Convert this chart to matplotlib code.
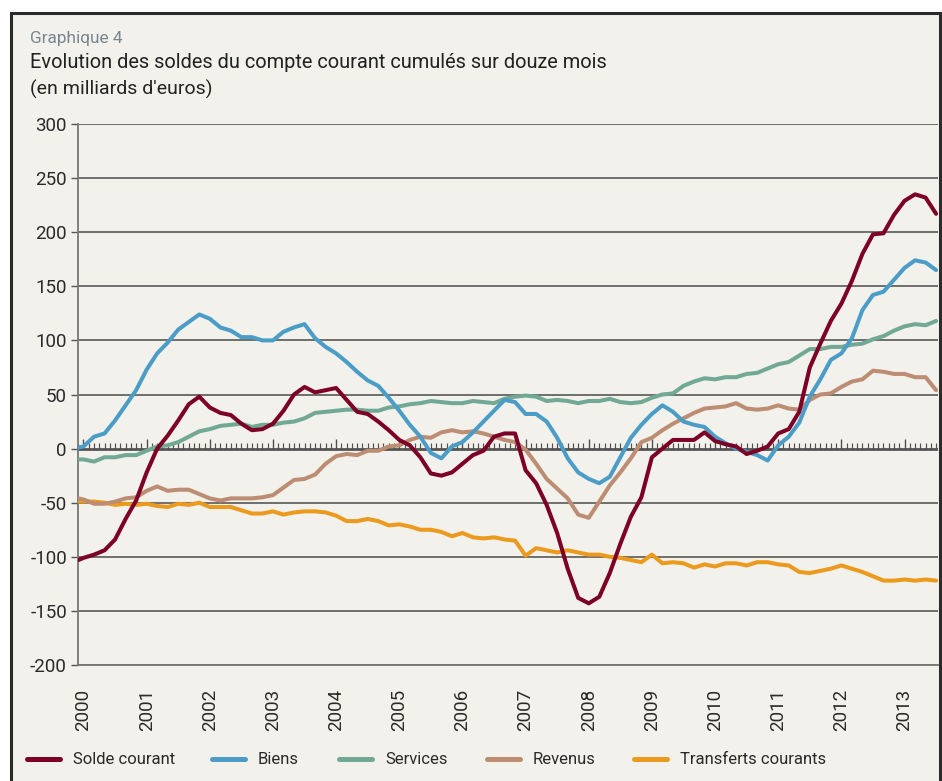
import numpy as np
import matplotlib
matplotlib.use("Agg")
import matplotlib.pyplot as plt
from matplotlib.patches import Rectangle
from matplotlib.lines import Line2D

plt.rcParams['font.family'] = ['Roboto', 'DejaVu Sans']
plt.rcParams['axes.unicode_minus'] = False

# ---- data (milliards d'euros, cumul 12 mois), sampled every two months ----
t = np.concatenate([[1999.92], 2000 + np.arange(82) / 6])

solde = [-103,
         -101, -98, -94, -84, -65, -48, -22, 0, 12, 26, 41, 48, 38, 33, 31, 23, 17,
         18, 23, 35, 50, 57, 52, 54, 56, 45, 34, 32, 25, 17, 8, 3, -8,
         -23, -25, -22, -14, -6, -2, 11, 14, 14, -20, -32, -52, -78, -111, -138, -143, -137,
         -115, -88, -63, -45, -8, 0, 8, 8, 8, 15, 7, 4, 2, -5, -2, 2, 14,
         18, 34, 75, 97, 118, 134, 155, 180, 198, 199, 216, 229, 235, 232, 217]
biens = [1,
         2, 11, 14, 26, 40, 54, 73, 88, 98, 110, 117, 124, 120, 112, 109, 103, 103,
         100, 100, 108, 112, 115, 102, 94, 88, 80, 71, 63, 58, 47, 35, 22, 11,
         -4, -9, 2, 6, 15, 25, 35, 45, 43, 32, 32, 25, 10, -9, -22, -28, -32,
         -26, -8, 10, 22, 32, 40, 34, 25, 22, 20, 11, 5, 0, -3, -6, -11, 3,
         11, 24, 48, 64, 82, 88, 102, 128, 142, 145, 156, 167, 174, 172, 165]
services = [-10,
            -10, -12, -8, -8, -6, -6, -2, 2, 3, 6, 11, 16, 18, 21, 22, 23, 20,
            22, 22, 24, 25, 28, 33, 34, 35, 36, 36, 35, 35, 38, 39, 41, 42,
            44, 43, 42, 42, 44, 43, 42, 46, 48, 49, 48, 44, 45, 44, 42, 44, 44,
            46, 43, 42, 43, 47, 50, 51, 58, 62, 65, 64, 66, 66, 69, 70, 74, 78,
            80, 86, 92, 92, 94, 94, 96, 97, 101, 104, 109, 113, 115, 114, 118]
revenus = [-46,
           -47, -51, -51, -49, -46, -45, -39, -35, -39, -38, -38, -42, -46, -48, -46, -46, -46,
           -45, -43, -36, -29, -28, -24, -14, -7, -5, -6, -2, -2, 2, 3, 8, 11,
           10, 15, 17, 15, 16, 14, 11, 8, 6, -1, -14, -28, -37, -46, -61, -64, -49,
           -34, -22, -9, 6, 10, 17, 23, 28, 33, 37, 38, 39, 42, 37, 36, 37, 40,
           37, 36, 45, 50, 51, 57, 62, 64, 72, 71, 69, 69, 66, 66, 54]
transferts = [-49,
              -49, -49, -50, -52, -51, -52, -51, -53, -54, -51, -52, -50, -54, -54, -54, -57, -60,
              -60, -58, -61, -59, -58, -58, -59, -62, -67, -67, -65, -67, -71, -70, -72, -75,
              -75, -77, -81, -78, -82, -83, -82, -84, -85, -99, -92, -94, -96, -94, -96, -98, -98,
              -100, -101, -103, -105, -98, -106, -105, -106, -110, -107, -109, -106, -106, -108, -105, -105, -107,
              -108, -114, -115, -113, -111, -108, -111, -114, -118, -122, -122, -121, -122, -121, -122]

series_names = ["Solde courant", "Biens", "Services", "Revenus", "Transferts courants"]
series_colors = ["#7d0026", "#4b9dc8", "#71a995", "#bd8d73", "#ec9a1d"]
series_values = [solde, biens, services, revenus, transferts]

years = list(range(2000, 2014))
y_ticks = [-200, -150, -100, -50, 0, 50, 100, 150, 200, 250, 300]

# ---- figure ----
W, H = 942, 781
fig = plt.figure(figsize=(W / 100, H / 100), dpi=100, facecolor="white")
bg = "#f2f1eb"
fig.patches.append(Rectangle((11 / W, -0.05), (940 - 11) / W, 1.05 - 13 / H,
                             transform=fig.transFigure, facecolor=bg,
                             edgecolor="#2b2b2b", linewidth=2.2, zorder=-10))

ax = fig.add_axes([78 / W, 1 - 665 / H, (938 - 78) / W, (665 - 124) / H])
ax.set_facecolor("none")
ax.set_zorder(1)

# gridlines
for v in y_ticks:
    if v == 0:
        continue
    ax.axhline(v, color="#4a4a4a", lw=1.1, zorder=1)

# zero line with monthly hatch
ax.axhline(0, color="#555555", lw=2.0, zorder=2)
months = 2000 + np.arange(-1, 163) / 12
for m in months:
    is_year = abs(m - round(m)) < 1e-6
    ax.plot([m, m], [0, 8.5 if is_year else 5.0], color="#505050",
            lw=1.0 if is_year else 0.85, zorder=2, solid_capstyle="butt")

order = [4, 3, 2, 1, 0]
for i in order:
    ax.plot(t, series_values[i], color=series_colors[i], lw=2.9, zorder=3 + (4 - i),
            solid_joinstyle="round", solid_capstyle="round")

ax.set_xlim(1999.913, 2013.53)
ax.set_ylim(-200, 300)

for s in ["top", "right"]:
    ax.spines[s].set_visible(False)
ax.spines["left"].set_color("#777777")
ax.spines["left"].set_linewidth(1.3)
ax.spines["bottom"].set_color("#777777")
ax.spines["bottom"].set_linewidth(1.3)

ax.set_yticks(y_ticks)
ax.set_yticklabels([str(v) for v in y_ticks])
ax.tick_params(axis="y", length=5, width=1.0, color="#555555", pad=3,
               labelsize=13.5, labelcolor="#2a2a2a")
ax.set_xticks(years)
ax.set_xticklabels([str(y) for y in years], rotation=90)
ax.tick_params(axis="x", length=0, pad=17, labelsize=13.5, labelcolor="#2a2a2a")

# titles
fig.text(30 / W, 1 - 38 / H, "Graphique 4", fontsize=12.4, color="#7b8590",
         va="center", ha="left")
fig.text(30 / W, 1 - 63 / H, "Evolution des soldes du compte courant cumulés sur douze mois",
         fontsize=14.4, color="#222222", va="center", ha="left")
fig.text(30 / W, 1 - 89 / H, "(en milliards d'euros)", fontsize=14, color="#222222",
         va="center", ha="left")

# legend
leg_y = 1 - 759 / H
handle_x = [27, 212, 339, 487, 634]
for i, name in enumerate(series_names):
    x0 = handle_x[i]
    fig.add_artist(Line2D([x0 / W, (x0 + 33) / W], [leg_y, leg_y], color=series_colors[i],
                          lw=3.6, solid_capstyle="round", transform=fig.transFigure))
    fig.text((x0 + 46) / W, leg_y, name, fontsize=12, color="#2a2a2a",
             va="center", ha="left")

fig.savefig("out.png", dpi=100, facecolor="white")
